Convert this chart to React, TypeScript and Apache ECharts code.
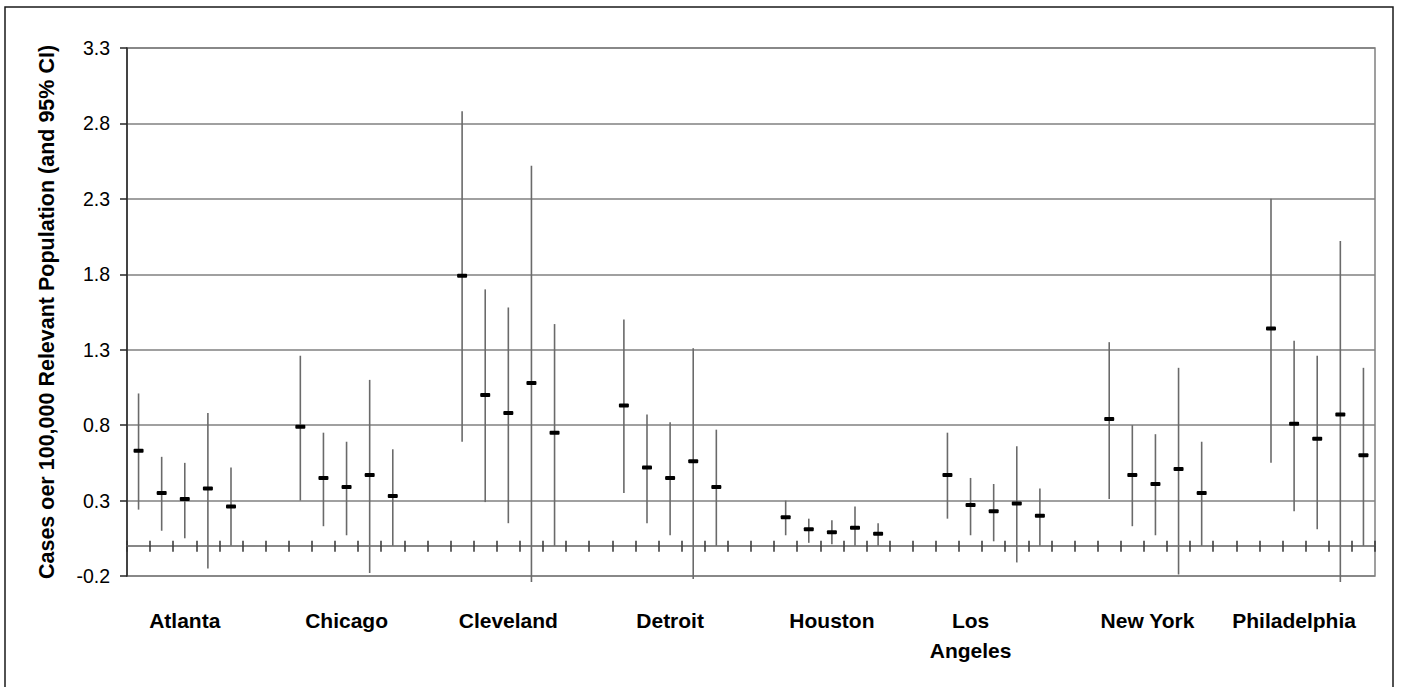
import React, { useEffect, useRef } from "react";
import * as echarts from "echarts";

// ---- data ----
const cities = ["Atlanta", "Chicago", "Cleveland", "Detroit", "Houston", "Los Angeles", "New York", "Philadelphia"];
const cityLabels = ["Atlanta", "Chicago", "Cleveland", "Detroit", "Houston", "Los\nAngeles", "New York", "Philadelphia"];
// slot (within each city's group) that carries the city label
const labelSlot = [2, 2, 2, 2, 2, 1, 2, 1];

const means = [
  [0.63, 0.35, 0.31, 0.38, 0.26],
  [0.79, 0.45, 0.39, 0.47, 0.33],
  [1.79, 1.0, 0.88, 1.08, 0.75],
  [0.93, 0.52, 0.45, 0.56, 0.39],
  [0.19, 0.11, 0.09, 0.12, 0.08],
  [0.47, 0.27, 0.23, 0.28, 0.2],
  [0.84, 0.47, 0.41, 0.51, 0.35],
  [1.44, 0.81, 0.71, 0.87, 0.6],
];
const lows = [
  [0.24, 0.1, 0.05, -0.15, 0.0],
  [0.3, 0.13, 0.07, -0.18, 0.0],
  [0.69, 0.29, 0.15, -0.24, 0.0],
  [0.35, 0.15, 0.07, -0.22, 0.0],
  [0.07, 0.02, 0.01, 0.0, 0.0],
  [0.18, 0.07, 0.03, -0.11, 0.0],
  [0.31, 0.13, 0.07, -0.19, 0.0],
  [0.55, 0.23, 0.11, -0.24, 0.0],
];
const highs = [
  [1.01, 0.59, 0.55, 0.88, 0.52],
  [1.26, 0.75, 0.69, 1.1, 0.64],
  [2.88, 1.7, 1.58, 2.52, 1.47],
  [1.5, 0.87, 0.82, 1.31, 0.77],
  [0.3, 0.18, 0.17, 0.26, 0.15],
  [0.75, 0.45, 0.41, 0.66, 0.38],
  [1.35, 0.8, 0.74, 1.18, 0.69],
  [2.3, 1.36, 1.26, 2.02, 1.18],
];
const pointsPerCity = 5;
const gapSlots = 2; // empty slots after each city except the last

const yMin = -0.2;
const yMax = 3.3;
const yStep = 0.5;

const yTitle = "Cases oer 100,000 Relevant Population (and 95% CI)";

// ---- derived structures ----
const categories: string[] = [];
const labelCats: string[] = [];
const errData: number[][] = [];
cities.forEach((c, ci) => {
  const nSlots = pointsPerCity + (ci < cities.length - 1 ? gapSlots : 0);
  for (let s = 0; s < nSlots; s++) {
    const idx = categories.length;
    categories.push(`${c} ${s + 1}`);
    labelCats.push(s === labelSlot[ci] ? cityLabels[ci] : "");
    if (s < pointsPerCity) {
      errData.push([idx, lows[ci][s], highs[ci][s], means[ci][s]]);
    }
  }
});

const FONT = '"Liberation Sans", Arial, Helvetica, sans-serif';

export default function App() {
  const ref = useRef<HTMLDivElement>(null);
  useEffect(() => {
    if (!ref.current) return;
    const chart = echarts.init(ref.current, null, { renderer: "svg" });
    const cityLabelStyle = {
      fontSize: 21,
      fontWeight: "bold" as const,
      color: "#000",
      fontFamily: FONT,
      lineHeight: 30,
    };
    chart.setOption({
      animation: false,
      backgroundColor: "#fff",
      grid: {
        left: 127,
        top: 48,
        right: 29,
        bottom: 111,
        containLabel: false,
        outerBoundsMode: "none",
        show: true,
        borderColor: "#808080",
        borderWidth: 1.5,
        backgroundColor: "transparent",
      },
      graphic: [
        {
          type: "rect",
          shape: { x: 5, y: 7, width: 1388, height: 700 },
          style: { fill: "none", stroke: "#1a1a1a", lineWidth: 1.5 },
          silent: true,
        },
      ],
      xAxis: [
        {
          type: "category",
          data: categories,
          position: "bottom",
          boundaryGap: true,
          axisLine: { show: true, onZero: true, onZeroAxisIndex: 0, lineStyle: { color: "#808080", width: 1.5 } },
          axisTick: { show: true, interval: 0, inside: false, length: 6, lineStyle: { color: "#333", width: 1.5 } },
          axisLabel: { show: false },
          splitLine: { show: false },
        },
        {
          type: "category",
          data: categories,
          position: "top",
          boundaryGap: true,
          axisLine: { show: true, onZero: true, onZeroAxisIndex: 0, lineStyle: { color: "#808080", width: 1.5 } },
          axisTick: { show: true, interval: 0, inside: false, length: 5, lineStyle: { color: "#333", width: 1.5 } },
          axisLabel: { show: false },
          splitLine: { show: false },
        },
        {
          type: "category",
          data: labelCats,
          position: "bottom",
          boundaryGap: true,
          axisLine: { show: false, onZero: false },
          axisTick: { show: false },
          splitLine: { show: false },
          axisLabel: {
            show: true,
            interval: 0,
            margin: 29,
            ...cityLabelStyle,
            formatter: (v: string) => (v === "New York" ? "{ny|New York}" : v),
            rich: {
              ny: { ...cityLabelStyle, padding: [0, 16, 0, 0] },
            },
          },
        },
      ],
      yAxis: {
        type: "value",
        min: yMin,
        max: yMax,
        interval: yStep,
        name: yTitle,
        nameLocation: "middle",
        nameGap: 69,
        nameTextStyle: { fontSize: 21.5, fontWeight: "bold", color: "#000", fontFamily: FONT },
        axisLine: { show: true, lineStyle: { color: "#262626", width: 1.5 } },
        axisTick: { show: true, inside: false, length: 7, lineStyle: { color: "#262626", width: 1.5 } },
        axisLabel: {
          margin: 17,
          fontSize: 19.5,
          color: "#000",
          fontFamily: FONT,
          formatter: (v: number) => v.toFixed(1),
        },
        splitLine: { show: true, lineStyle: { color: "#808080", width: 1.5 } },
      },
      series: [
        {
          type: "custom",
          xAxisIndex: 0,
          yAxisIndex: 0,
          clip: false,
          encode: { x: 0, y: [1, 2, 3] },
          data: errData,
          renderItem: (params: any, api: any) => {
            const x = api.value(0);
            const pLo = api.coord([x, api.value(1)]);
            const pHi = api.coord([x, api.value(2)]);
            const pM = api.coord([x, api.value(3)]);
            return {
              type: "group",
              children: [
                {
                  type: "line",
                  shape: { x1: pLo[0], y1: pLo[1], x2: pHi[0], y2: pHi[1] },
                  style: { stroke: "#6a6a6a", lineWidth: 1.6 },
                },
                {
                  type: "rect",
                  shape: { x: pM[0] - 5, y: pM[1] - 2, width: 10, height: 4, r: 1 },
                  style: { fill: "#000" },
                },
              ],
            };
          },
        },
      ],
    });
    return () => chart.dispose();
  }, []);
  return (
    <div
      ref={ref}
      style={{ position: "absolute", left: 0, top: 0, width: 1404, height: 687, background: "#fff" }}
    />
  );
}
